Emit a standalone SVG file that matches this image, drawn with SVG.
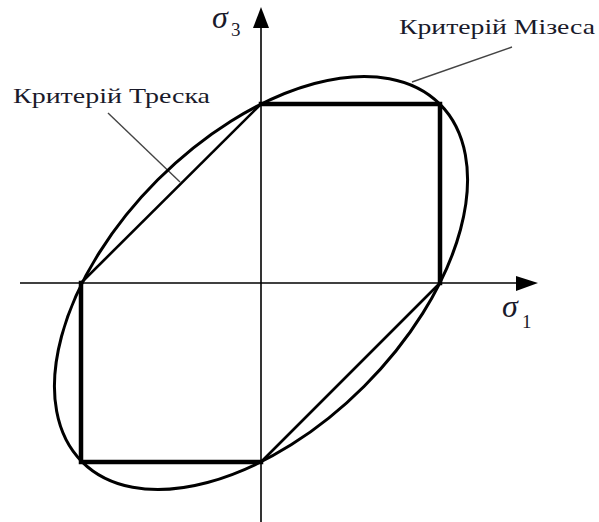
<svg xmlns="http://www.w3.org/2000/svg" width="599" height="522" viewBox="0 0 599 522">
<style>
.axis{stroke:#000;stroke-width:1.6;fill:none}
.thick{stroke:#000;stroke-width:4.5;fill:none;stroke-linecap:square}
.diag{stroke:#000;stroke-width:2.6;fill:none}
.ell{stroke:#000;stroke-width:3;fill:none}
.lead{stroke:#444;stroke-width:1.4;fill:none}
.lbl{font-family:"Liberation Serif","Times New Roman",serif;font-size:22px;fill:#1a1a2a}
.sig{font-family:"Liberation Serif","Times New Roman",serif;font-style:italic;font-size:32px;fill:#1a1a2a}
.sub{font-family:"Liberation Serif","Times New Roman",serif;font-size:19px;fill:#1a1a2a}
</style>
<rect width="599" height="522" fill="#fff"/>
<g id="connectors">
<line class="axis" x1="20" y1="283" x2="520" y2="283"/>
<polygon points="538,283 516,276 516,291" fill="#000"/>
<line class="axis" x1="261" y1="522" x2="261" y2="25"/>
<polygon points="261,7 253,28 269,28" fill="#000"/>
<line class="lead" x1="512" y1="47" x2="412" y2="82"/>
<line class="lead" x1="108" y1="113" x2="180" y2="182"/>
</g>
<g id="mises">
<ellipse class="ell" cx="261" cy="283" rx="253" ry="146" transform="rotate(-45 261 283)"/>
</g>
<g id="tresca">
<line class="diag" x1="81" y1="283" x2="261" y2="104"/>
<line class="diag" x1="440" y1="283" x2="261" y2="462"/>
<polyline class="thick" points="261,104 440,104 440,283"/>
<polyline class="thick" points="261,462 81,462 81,283"/>
</g>
<g id="labels">
<text class="lbl" x="399" y="34" textLength="196" lengthAdjust="spacingAndGlyphs">Критерій Мізеса</text>
<text class="lbl" x="13" y="103" textLength="197" lengthAdjust="spacingAndGlyphs">Критерій Треска</text>
<text class="sig" x="212" y="28">σ</text>
<text class="sub" x="231" y="36">3</text>
<text class="sig" x="502" y="317">σ</text>
<text class="sub" x="522" y="328">1</text>
</g>
</svg>
